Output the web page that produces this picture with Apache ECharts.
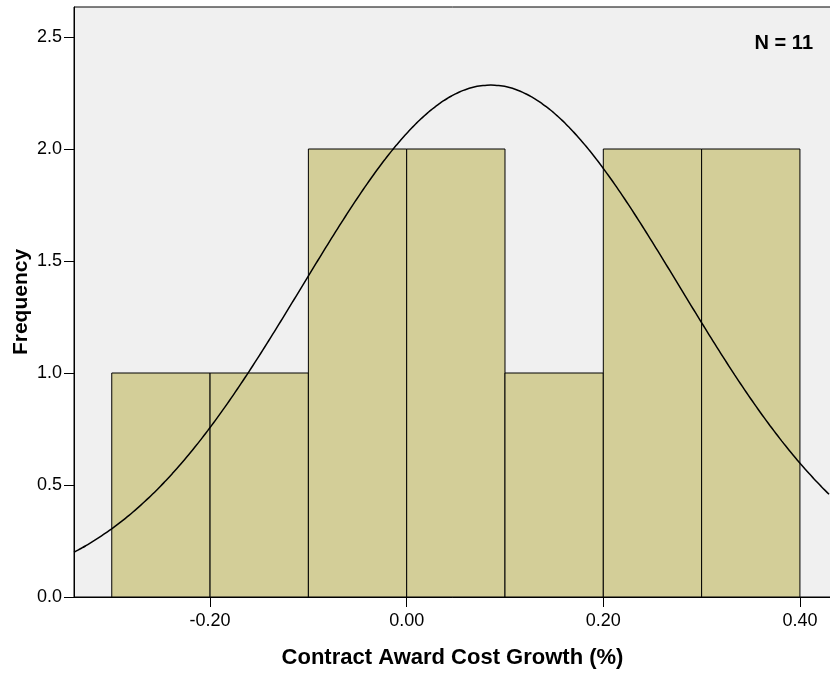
<!DOCTYPE html>
<html><head><meta charset="utf-8">
<script src="https://cdn.jsdelivr.net/npm/echarts@6/dist/echarts.min.js"></script>
<style>html,body{margin:0;padding:0;background:#fff}#c{width:830px;height:673px}</style>
</head><body><div id="c"></div>
<script>
const binStarts = [-0.3, -0.2, -0.1, 0.0, 0.1, 0.2, 0.3];
const binWidth = 0.1;
const frequencies = [1, 1, 2, 2, 1, 2, 2];
const xTicks = [-0.2, 0.0, 0.2, 0.4];
const yTicks = [0, 0.5, 1.0, 1.5, 2.0, 2.5];
const fitMean = 0.0855;
const fitSD = 0.192;
const sampleN = 11;
const xMin = -0.3384, xMax = 0.4316, yMax = 2.634;

// normal fit curve defined by mean/sd of the sample
const curve = [];
for (let x = xMin; x <= xMax + 1e-9; x += 0.004) {
  const z = (x - fitMean) / fitSD;
  curve.push([x, sampleN * binWidth / (fitSD * Math.sqrt(2 * Math.PI)) * Math.exp(-0.5 * z * z)]);
}
const bars = binStarts.map((s, i) => [s, s + binWidth, frequencies[i]]);

const chart = echarts.init(document.getElementById('c'));
const font = 'Liberation Sans, Arial, sans-serif';
chart.setOption({
  animation: false,
  grid: { left: 74, right: -1, top: 7, bottom: 76, outerBoundsMode: 'none', containLabel: false,
    show: true, backgroundColor: '#f0f0f0', borderColor: '#000', borderWidth: 1 },
  xAxis: {
    type: 'value', min: xMin, max: xMax,
    name: 'Contract Award Cost Growth (%)', nameLocation: 'middle', nameGap: 50, nameMoveOverlap: false,
    nameTextStyle: { fontFamily: font, fontSize: 22, fontWeight: 'bold', color: '#000' },
    splitLine: { show: false },
    axisLine: { show: true, onZero: false, lineStyle: { color: '#000', width: 1 } },
    axisTick: { show: true, length: 10, lineStyle: { color: '#000' }, customValues: xTicks },
    axisLabel: { fontFamily: font, fontSize: 18, color: '#000', margin: 15, customValues: xTicks, formatter: v => v.toFixed(2) }
  },
  yAxis: {
    type: 'value', min: 0, max: yMax,
    name: 'Frequency', nameLocation: 'middle', nameGap: 42, nameMoveOverlap: false,
    nameTextStyle: { fontFamily: font, fontSize: 21, fontWeight: 'bold', color: '#000' },
    splitLine: { show: false },
    axisLine: { show: true, onZero: false, lineStyle: { color: '#000', width: 1 } },
    axisTick: { show: true, length: 10, lineStyle: { color: '#000' }, customValues: yTicks },
    axisLabel: { fontFamily: font, fontSize: 18, color: '#000', margin: 12, customValues: yTicks, formatter: v => v.toFixed(1) }
  },
  series: [
    {
      type: 'custom', data: bars, z: 2,
      renderItem: (params, api) => {
        const p0 = api.coord([api.value(0), 0]);
        const p1 = api.coord([api.value(1), api.value(2)]);
        return { type: 'rect', shape: { x: p0[0], y: p1[1], width: p1[0] - p0[0], height: p0[1] - p1[1] },
          style: { fill: '#d3ce98', stroke: '#000', lineWidth: 1 } };
      }
    },
    {
      type: 'line', data: curve, showSymbol: false, smooth: true, z: 3,
      lineStyle: { color: '#000', width: 1.5 }
    }
  ],
  graphic: [
    { type: 'text', right: 17, top: 33, style: { text: 'N = 11', font: 'bold 20px ' + font, fill: '#000' } }
  ]
});
</script></body></html>
